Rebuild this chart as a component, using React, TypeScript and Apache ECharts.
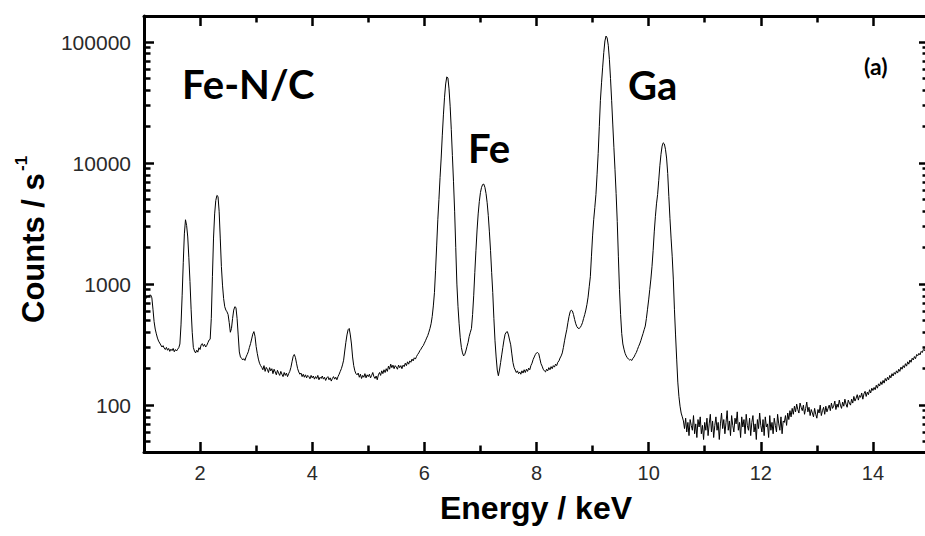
import { useEffect, useRef } from "react";
import * as echarts from "echarts";

// Spectrum: counts per second, one value per 0.02 keV channel, split into energy windows.
const CHANNEL_WIDTH_KEV = 0.02;

const windowAStartKeV = 1.0; // 1.00 – 2.18 keV
const windowACounts = [
  700, 735, 770, 785, 796, 808, 812, 770, 620, 490,
  425, 388, 358, 338, 326, 314, 302, 310, 296, 288,
  300, 284, 294, 278, 290, 282, 294, 276, 288, 280,
  290, 298, 320, 460, 800, 1500, 2600, 3400, 3050, 2450,
  1650, 1050, 620, 400, 300, 280, 270, 284, 274, 298,
  288, 316, 322, 306, 318, 302, 312, 328, 345, 350,
];

const windowBStartKeV = 2.2; // 2.20 – 3.18 keV
const windowBCounts = [
  520, 1150, 2400, 3800, 4900, 5400, 5300, 4000, 2400, 1400,
  980, 760, 650, 610, 590, 560, 480, 400, 430, 520,
  610, 650, 640, 520, 380, 275, 250, 244, 236, 242,
  234, 250, 262, 276, 300, 322, 352, 386, 405, 370,
  305, 268, 240, 222, 212, 205, 196, 212, 190, 205,
];

const windowCStartKeV = 3.2; // 3.20 – 4.98 keV
const windowCCounts = [
  198, 186, 204, 192, 200, 182, 198, 188, 178, 194,
  184, 176, 190, 180, 172, 186, 176, 184, 172, 182,
  190, 205, 228, 252, 262, 248, 222, 200, 188, 180,
  184, 172, 180, 170, 178, 168, 176, 172, 165, 176,
  168, 174, 164, 172, 166, 176, 162, 170, 166, 174,
  164, 170, 160, 168, 172, 162, 168, 158, 166, 172,
  164, 170, 162, 172, 180, 190, 200, 215, 235, 280,
  330, 380, 420, 430, 380, 320, 250, 212, 192, 182,
  178, 184, 170, 180, 166, 176, 170, 182, 168, 178,
];

const windowDStartKeV = 5.0; // 5.00 – 6.18 keV
const windowDCounts = [
  172, 180, 168, 176, 186, 172, 166, 174, 162, 178,
  186, 176, 192, 182, 196, 186, 200, 190, 210, 198,
  218, 204, 214, 200, 212, 206, 198, 214, 204, 212,
  200, 214, 208, 222, 212, 228, 218, 232, 226, 240,
  232, 246, 240, 252, 262, 270, 282, 290, 302, 310,
  325, 340, 358, 375, 400, 430, 470, 540, 660, 850,
];

const windowEStartKeV = 6.2; // 6.20 – 7.68 keV (Fe K-alpha / K-beta)
const windowECounts = [
  1300, 2100, 3400, 5000, 7600, 11000, 17000, 25000, 35000, 45000,
  51500, 50500, 41000, 29500, 19000, 11500, 7000, 4000, 2000, 1000,
  650, 470, 360, 300, 270, 255, 262, 280, 305, 330,
  370, 400, 430, 560, 800, 1250, 1900, 2800, 3800, 4800,
  5700, 6300, 6650, 6700, 6300, 5600, 4700, 3700, 2700, 1900,
  1250, 850, 520, 340, 250, 195, 175, 195, 225, 260,
  300, 345, 385, 400, 405, 380, 345, 315, 265, 225,
  205, 195, 186, 192, 182,
];

const windowFStartKeV = 7.7; // 7.70 – 8.98 keV
const windowFCounts = [
  188, 180, 192, 184, 196, 186, 198, 190, 202, 196,
  212, 222, 238, 250, 262, 270, 272, 266, 242, 220,
  210, 198, 192, 188, 198, 192, 204, 196, 208, 200,
  212, 206, 218, 212, 226, 232, 245, 255, 270, 300,
  340, 380, 420, 480, 540, 590, 610, 600, 560, 510,
  470, 445, 432, 430, 438, 455, 480, 520, 560, 610,
  680, 780, 950, 1150, 1700,
];

const windowGStartKeV = 9.0; // 9.00 – 10.58 keV (Ga K-alpha / K-beta)
const windowGCounts = [
  2500, 3400, 4300, 5500, 8000, 12000, 20000, 33000, 46000, 62000,
  82000, 102000, 112000, 108000, 94000, 72000, 50000, 33000, 21000, 13500,
  8800, 5600, 3300, 1700, 900, 560, 390, 320, 290, 268,
  255, 246, 240, 236, 238, 234, 244, 250, 262, 272,
  288, 305, 320, 340, 365, 390, 420, 450, 520, 620,
  740, 900, 1100, 1400, 1900, 2700, 3600, 4600, 5500, 7200,
  9500, 11800, 13800, 14700, 14400, 13000, 11000, 8200, 5300, 3500,
  2400, 1700, 1100, 620, 380, 240, 155, 118, 98, 86,
];

const windowHStartKeV = 10.6; // 10.60 – 15.00 keV
const windowHCounts = [
  80, 74, 64, 78, 60, 72, 56, 76, 68, 62,
  82, 58, 70, 54, 76, 66, 80, 58, 68, 52,
  72, 62, 78, 56, 70, 84, 60, 74, 54, 68,
  80, 62, 72, 52, 70, 86, 64, 76, 58, 72,
  90, 62, 74, 56, 82, 68, 60, 78, 70, 88,
  62, 72, 54, 80, 66, 76, 58, 84, 68, 62,
  78, 56, 72, 82, 60, 70, 52, 76, 64, 86,
  68, 60, 76, 56, 80, 66, 70, 54, 82, 62,
  72, 58, 78, 68, 60, 84, 70, 62, 80, 58,
  74, 72, 82, 68, 86, 76, 90, 80, 94, 84,
  98, 88, 102, 92, 86, 104, 96, 90, 100, 84,
  94, 106, 88, 96, 82, 92, 86, 80, 94, 84,
  78, 92, 86, 100, 82, 90, 96, 84, 98, 88,
  94, 100, 90, 104, 94, 98, 108, 92, 102, 96,
  110, 100, 94, 106, 98, 112, 102, 96, 110, 104,
  100, 112, 104, 118, 108, 114, 122, 110, 120, 116,
  126, 112, 124, 130, 118, 128, 122, 134, 126, 138,
  132, 140, 134, 146, 138, 150, 144, 156, 148, 160,
  152, 166, 158, 170, 162, 176, 168, 182, 174, 186,
  180, 192, 184, 198, 190, 206, 198, 212, 204, 220,
  210, 228, 218, 236, 226, 244, 236, 252, 242, 262,
  256, 268, 260, 278, 272, 288, 282, 298, 292, 308,
  316,
];

// Axis ranges and ticks
const ENERGY_MIN = 1;
const ENERGY_MAX = 15;
const ENERGY_MAJOR = [2, 4, 6, 8, 10, 12, 14];
const ENERGY_MINOR = [3, 5, 7, 9, 11, 13];

const COUNT_MIN = 41;
const COUNT_MAX = 164000;
const COUNT_MAJOR = [100, 1000, 10000, 100000];
const COUNT_MINOR = [
  50, 60, 70, 80, 90,
  200, 300, 400, 500, 600, 700, 800, 900,
  2000, 3000, 4000, 5000, 6000, 7000, 8000, 9000,
  20000, 30000, 40000, 50000, 60000, 70000, 80000, 90000,
];

// Element annotations
const PEAK_LABELS = ["Fe-N/C", "Fe", "Ga"];
const PANEL_TAG = "(a)";
const X_TITLE = "Energy / keV";
const Y_TITLE = "Counts / s";
const Y_TITLE_EXP = "-1";

const SPECTRUM_WINDOWS: [number, number[]][] = [
  [windowAStartKeV, windowACounts],
  [windowBStartKeV, windowBCounts],
  [windowCStartKeV, windowCCounts],
  [windowDStartKeV, windowDCounts],
  [windowEStartKeV, windowECounts],
  [windowFStartKeV, windowFCounts],
  [windowGStartKeV, windowGCounts],
  [windowHStartKeV, windowHCounts],
];

const AXIS_FONT = '"Liberation Sans", Arial, sans-serif';
const NOTE_FONT = 'Lato, "Open Sans", sans-serif';

function buildSpectrum(): [number, number][] {
  const points: [number, number][] = [];
  for (const [start, counts] of SPECTRUM_WINDOWS) {
    counts.forEach((c, i) => {
      points.push([Math.round((start + i * CHANNEL_WIDTH_KEV) * 100) / 100, c]);
    });
  }
  return points;
}

const GRID_BOX = { left: 144, top: 16, width: 785, height: 436 };

function energyAxis(
  gridIndex: number,
  position: "bottom" | "top",
  ticks: number[],
  tickLength: number,
  withLabels: boolean,
  withLine: boolean
) {
  return {
    type: "value",
    gridIndex,
    position,
    min: ENERGY_MIN,
    max: ENERGY_MAX,
    axisLine: { show: withLine, onZero: false, lineStyle: { color: "#000", width: 3 } },
    axisTick: {
      show: true,
      inside: true,
      length: tickLength,
      customValues: ticks,
      lineStyle: { color: "#000", width: 2.5 },
    },
    axisLabel: withLabels
      ? {
          show: true,
          customValues: ticks,
          margin: 11,
          color: "#2a2a2a",
          fontSize: 20,
          fontFamily: AXIS_FONT,
        }
      : { show: false },
    splitLine: { show: false },
  };
}

function countAxis(
  gridIndex: number,
  position: "left" | "right",
  ticks: number[],
  tickLength: number,
  withLabels: boolean,
  withLine: boolean
) {
  return {
    type: "log",
    logBase: 10,
    gridIndex,
    position,
    min: COUNT_MIN,
    max: COUNT_MAX,
    axisLine: { show: withLine, onZero: false, lineStyle: { color: "#000", width: 3 } },
    axisTick: {
      show: true,
      inside: true,
      length: tickLength,
      customValues: ticks,
      lineStyle: { color: "#000", width: 2.5 },
    },
    axisLabel: withLabels
      ? {
          show: true,
          customValues: ticks,
          margin: 13,
          color: "#2a2a2a",
          fontSize: 21,
          fontFamily: AXIS_FONT,
          formatter: (v: number) => String(Math.round(v)),
        }
      : { show: false },
    splitLine: { show: false },
  };
}

export default function App() {
  const ref = useRef<HTMLDivElement>(null);

  useEffect(() => {
    if (!ref.current) return;
    const chart = echarts.init(ref.current, undefined, { renderer: "svg" });
    const [feNC, fe, ga] = PEAK_LABELS;

    chart.setOption({
      animation: false,
      backgroundColor: "#ffffff",
      grid: [
        { ...GRID_BOX, containLabel: false, outerBoundsMode: "none" },
        { ...GRID_BOX, containLabel: false, outerBoundsMode: "none" },
      ],
      xAxis: [
        energyAxis(0, "bottom", ENERGY_MAJOR, 10, true, true),
        energyAxis(0, "top", ENERGY_MAJOR, 10, false, true),
        energyAxis(1, "bottom", ENERGY_MINOR, 6.5, false, false),
        energyAxis(1, "top", ENERGY_MINOR, 6.5, false, false),
      ],
      yAxis: [
        countAxis(0, "left", COUNT_MAJOR, 10, true, true),
        countAxis(0, "right", COUNT_MAJOR, 10, false, true),
        countAxis(1, "left", COUNT_MINOR, 6.5, false, false),
        countAxis(1, "right", COUNT_MINOR, 6.5, false, false),
      ],
      series: [
        {
          type: "line",
          xAxisIndex: 0,
          yAxisIndex: 0,
          data: buildSpectrum(),
          symbol: "none",
          showSymbol: false,
          silent: true,
          lineStyle: { color: "#000", width: 1 },
        },
      ],
      graphic: [
        {
          type: "text",
          x: 182,
          y: 84,
          style: {
            text: feNC,
            font: `bold 40px ${NOTE_FONT}`,
            fill: "#000",
            align: "left",
            verticalAlign: "middle",
          },
        },
        {
          type: "text",
          x: 468,
          y: 148,
          style: {
            text: fe,
            font: `bold 40px ${NOTE_FONT}`,
            fill: "#000",
            align: "left",
            verticalAlign: "middle",
          },
        },
        {
          type: "text",
          x: 628,
          y: 85,
          style: {
            text: ga,
            font: `bold 40px ${NOTE_FONT}`,
            fill: "#000",
            align: "left",
            verticalAlign: "middle",
          },
        },
        {
          type: "text",
          x: 864,
          y: 66,
          style: {
            text: PANEL_TAG,
            font: `bold 23px ${NOTE_FONT}`,
            fill: "#000",
            align: "left",
            verticalAlign: "middle",
          },
        },
        {
          type: "text",
          x: 536,
          y: 508,
          style: {
            text: X_TITLE,
            font: `bold 32px ${AXIS_FONT}`,
            fill: "#000",
            align: "center",
            verticalAlign: "middle",
          },
        },
        {
          type: "group",
          x: 33,
          y: 323,
          rotation: Math.PI / 2,
          children: [
            {
              type: "text",
              x: 0,
              y: 0,
              style: {
                text: Y_TITLE,
                font: `bold 31px ${AXIS_FONT}`,
                fill: "#000",
                align: "left",
                verticalAlign: "middle",
              },
            },
            {
              type: "text",
              x: 152,
              y: -12,
              style: {
                text: Y_TITLE_EXP,
                font: `bold 17px ${AXIS_FONT}`,
                fill: "#000",
                align: "left",
                verticalAlign: "middle",
              },
            },
          ],
        },
      ],
    });

    return () => chart.dispose();
  }, []);

  return (
    <div
      style={{
        position: "fixed",
        left: 0,
        top: 0,
        width: 925,
        height: 536,
        overflow: "hidden",
        background: "#fff",
      }}
    >
      <div ref={ref} style={{ width: 935, height: 536 }} />
    </div>
  );
}
